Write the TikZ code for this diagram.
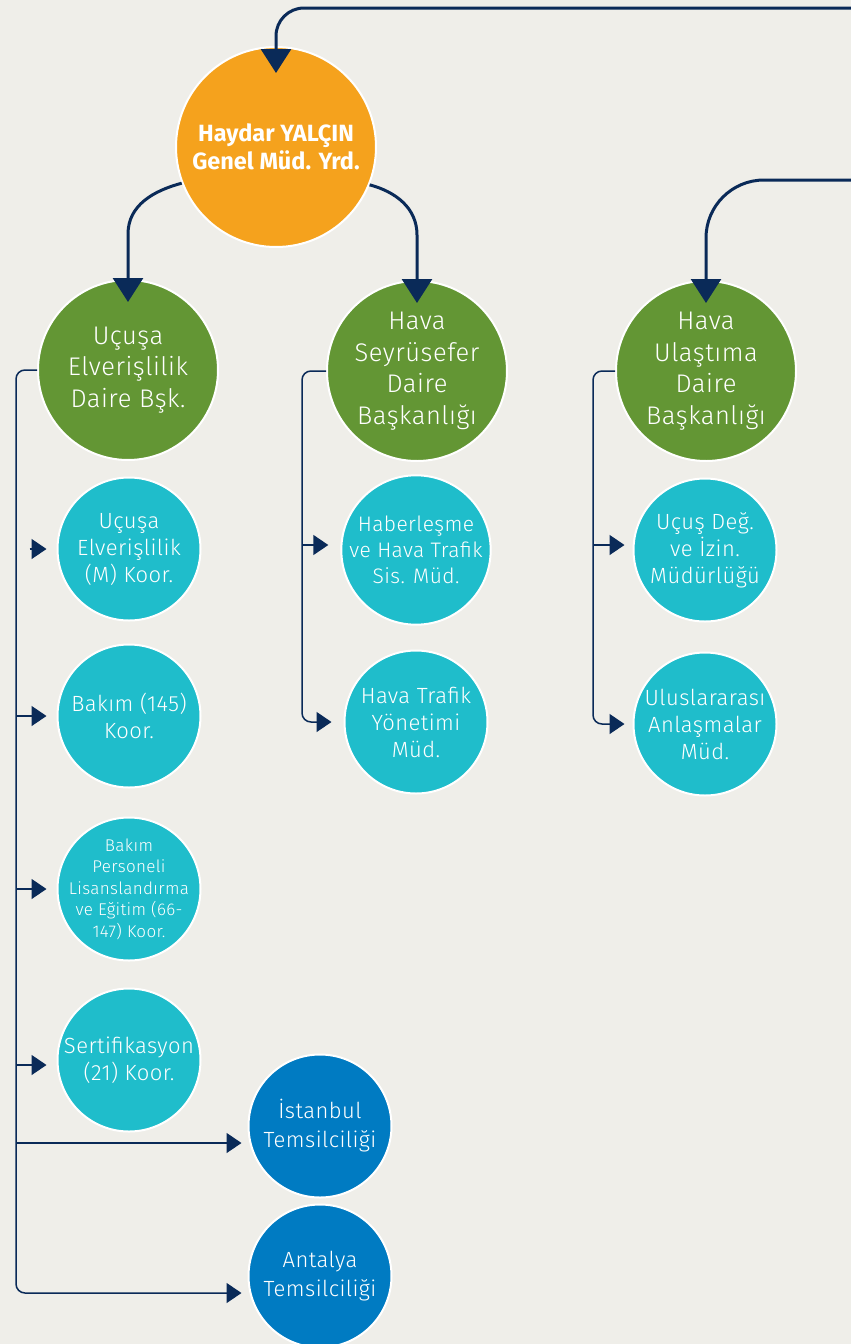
\documentclass[tikz,border=0pt]{standalone}
\usepackage{fontspec}
\setmainfont{Fira Sans Light}[LetterSpace=2]
\newfontfamily\chieffont{Fira Sans}
\usetikzlibrary{arrows.meta}
\definecolor{paper}{RGB}{239,238,233}
\definecolor{chief}{RGB}{245,162,29}
\definecolor{dept}{RGB}{99,150,52}
\definecolor{office}{RGB}{31,189,203}
\definecolor{branch}{RGB}{0,123,194}
\definecolor{navy}{RGB}{10,42,88}
\tikzstyle{unit} = [circle, draw=white, line width=2pt, text=white, align=center, inner sep=0pt]
\tikzstyle{chiefunit} = [unit, fill=chief, minimum size=200pt, font=\chieffont\bfseries\fontsize{23.5}{28}\selectfont]
\tikzstyle{deptunit} = [unit, fill=dept, minimum size=180pt, font=\fontsize{25.5}{31.5}\selectfont]
\tikzstyle{officeunit} = [unit, fill=office, minimum size=143pt, font=\fontsize{22}{27}\selectfont]
\tikzstyle{branchunit} = [unit, fill=branch, minimum size=143pt, font=\fontsize{22}{29}\selectfont]
\tikzstyle{link} = [draw=navy, line width=3pt, -{Triangle[width=30pt,length=24pt]}, shorten >=-23pt]
\tikzstyle{sublink} = [draw=navy, line width=1.5pt, -{Triangle[width=20pt,length=15pt]}, rounded corners=9pt, shorten >=10pt]

\begin{document}
\begin{tikzpicture}[x=1pt,y=1pt]
    \fill[paper] (0,0) rectangle (851,-1344);
    \useasboundingbox (0,0) rectangle (851,-1344);

    \node[chiefunit] (boss) at (276,-147) {Haydar YALÇIN\\Genel Müd. Yrd.};

    \node[deptunit] (ucusa) at (128,-370) {Uçuşa\\Elverişlilik\\Daire Bşk.};
    \node[deptunit] (seyru) at (417,-371) {Hava\\Seyrüsefer\\Daire\\Başkanlığı};
    \node[deptunit] (ulas) at (706,-371) {Hava\\Ulaştıma\\Daire\\Başkanlığı};

    \node[officeunit] (koorM) at (129,-549) {Uçuşa\\Elverişlilik\\(M) Koor.};
    \node[officeunit] (koorBakim) at (129,-716) {Bakım (145)\\Koor.};
    \node[officeunit, inner sep=-20pt, font=\fontsize{17}{21.5}\selectfont] (koorLis) at (129,-889) {Bakım\\Personeli\\Lisanslandırma\\ve Eğitim (66-\\147) Koor.};
    \node[officeunit] (koorSert) at (129,-1060) {Sertifikasyon\\(21) Koor.};

    \node[officeunit, font=\fontsize{21}{26}\selectfont] (haber) at (416,-550) {Haberleşme\\ve Hava Trafik\\Sis. Müd.};
    \node[officeunit] (trafik) at (416,-722) {Hava Trafik\\Yönetimi\\Müd.};

    \node[officeunit] (izin) at (705,-550) {Uçuş Değ.\\ve İzin.\\Müdürlüğü};
    \node[officeunit] (anlas) at (705,-724) {Uluslararası\\Anlaşmalar\\Müd.};

    \node[branchunit] (ist) at (320,-1126) {İstanbul\\Temsilciliği};
    \node[branchunit] (ant) at (320,-1276) {Antalya\\Temsilciliği};

    % lines coming in from the right edge
    \coordinate (fromtop) at (860,-8);
    \coordinate (fromright) at (860,-180);
    \draw[link, rounded corners=28pt, shorten >=-27pt] (fromtop) -| (boss.north);
    \draw[link, rounded corners=58pt] (fromright) -| (ulas.north);

    \draw[link] (boss.201) to[out=195,in=90] ([yshift=45pt]ucusa.north) -- (ucusa.north);
    \draw[link] (boss.338) to[out=-15,in=90] ([yshift=45pt]seyru.north) -- (seyru.north);

    % trunks
    \coordinate (trunkA) at (16,-700);
    \coordinate (trunkB) at (302,-550);
    \coordinate (trunkC) at (593,-550);

    \draw[sublink, shorten >=6pt] (ucusa.west) -| (trunkA) |- ([yshift=-17pt]ant.west);
    \draw[sublink, shorten >=6pt] ([yshift=-17pt]ist.west -| trunkA) -- ([yshift=-17pt]ist.west);
    \draw[sublink] ([xshift=-27pt]koorM.west) -- (koorM.west);
    \draw[sublink] (koorBakim.west -| trunkA) -- (koorBakim.west);
    \draw[sublink] (koorLis.west -| trunkA) -- (koorLis.west);
    \draw[sublink] ([yshift=-5pt]koorSert.west -| trunkA) -- ([yshift=-5pt]koorSert.west);

    \draw[sublink, shorten >=12pt] (seyru.west) -| (trunkB) |- (trafik.west);
    \draw[sublink, shorten >=12pt] ([yshift=5pt]haber.west -| trunkB) -- ([yshift=5pt]haber.west);

    \draw[sublink, shorten >=8pt] (ulas.west) -| (trunkC) |- (anlas.west);
    \draw[sublink, shorten >=8pt] ([yshift=5pt]izin.west -| trunkC) -- ([yshift=5pt]izin.west);
\end{tikzpicture}
\end{document}
